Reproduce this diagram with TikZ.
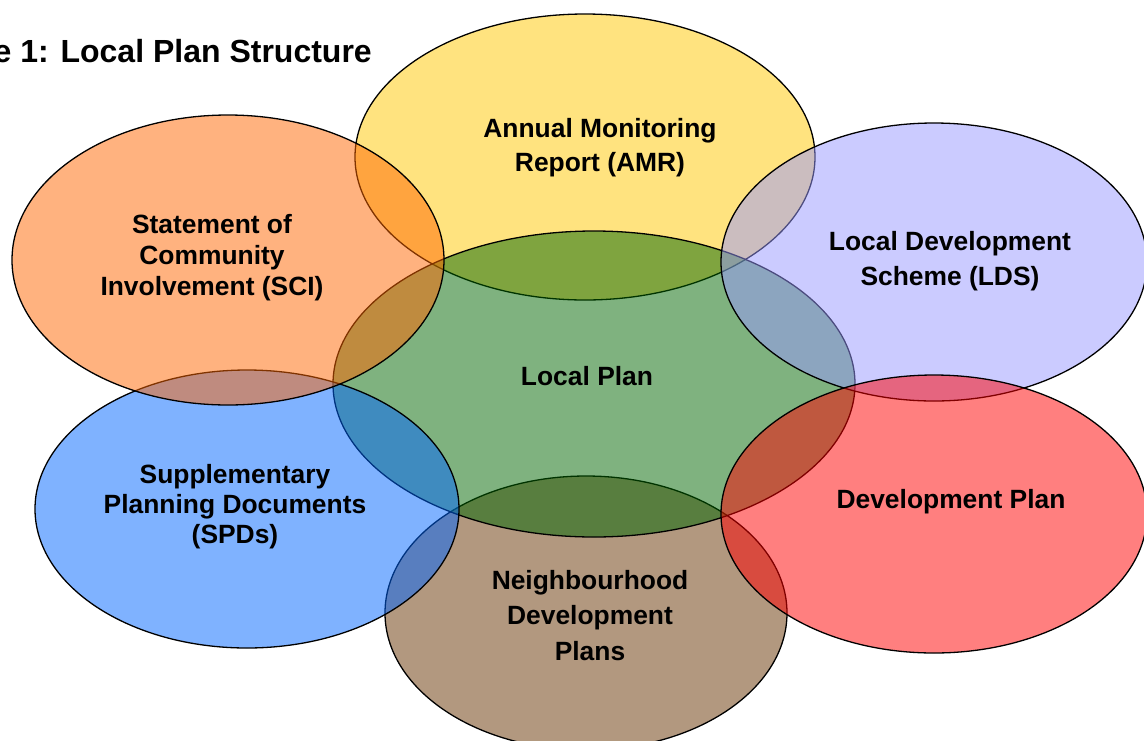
\documentclass[tikz,border=0pt]{standalone}
\usepackage{fontspec}
\setmainfont{Liberation Sans}
\definecolor{cyel}{HTML}{FFC800}
\definecolor{cora}{HTML}{FF6600}
\definecolor{cgre}{HTML}{006600}
\definecolor{clav}{HTML}{9999FF}
\definecolor{cblu}{HTML}{0066FF}
\definecolor{cbro}{HTML}{663300}
\definecolor{cred}{HTML}{FF0000}
\tikzset{
  venn/.style={draw=black, line width=1.3pt, fill opacity=0.5},
  lbl/.style={anchor=base, inner sep=0pt, font=\fontsize{26.4}{31}\selectfont\bfseries},
  ttl/.style={anchor=base east, inner sep=0pt, font=\fontsize{32}{38}\selectfont\bfseries}
}
\begin{document}
\begin{tikzpicture}[x=1pt,y=-1pt]
\useasboundingbox (0,0) rectangle (1144,740);
\clip (0,0) rectangle (1144,740);
\fill[white] (0,0) rectangle (1144,740);
% ellipses in stacking order
\path[venn, fill=cyel] (585,157) ellipse [x radius=230, y radius=143];
\path[venn, fill=cbro] (586,613) ellipse [x radius=201, y radius=137];
\path[venn, fill=cgre] (594,384) ellipse [x radius=261, y radius=153];
\path[venn, fill=clav] (934,262) ellipse [x radius=213, y radius=139];
\path[venn, fill=cred] (934,514) ellipse [x radius=213, y radius=139];
\path[venn, fill=cblu] (247,509) ellipse [x radius=212, y radius=139];
\path[venn, fill=cora] (228,260) ellipse [x radius=216, y radius=145];
% title
\node[ttl] (title) at (372,62) {e 1: Local Plan Structure};
% labels
\node[lbl] (amr1) at (600,137) {Annual Monitoring};
\node[lbl] (amr2) at (600,171) {Report (AMR)};
\node[lbl] (sci1) at (212,233) {Statement of};
\node[lbl] (sci2) at (212,264) {Community};
\node[lbl] (sci3) at (212,295) {Involvement (SCI)};
\node[lbl] (lds1) at (950,250) {Local Development};
\node[lbl] (lds2) at (950,285) {Scheme (LDS)};
\node[lbl] (lp) at (587,385) {Local Plan};
\node[lbl] (spd1) at (235,483) {Supplementary};
\node[lbl] (spd2) at (235,513) {Planning Documents};
\node[lbl] (spd3) at (235,543) {(SPDs)};
\node[lbl] (ndp1) at (590,589) {Neighbourhood};
\node[lbl] (ndp2) at (590,624) {Development};
\node[lbl] (ndp3) at (590,660) {Plans};
\node[lbl] (dp) at (951,508) {Development Plan};
\end{tikzpicture}
\end{document}
